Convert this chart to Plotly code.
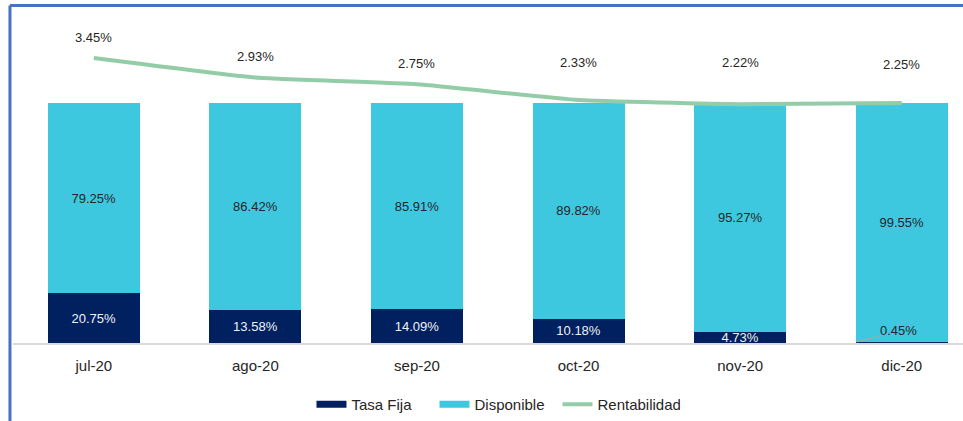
import plotly.graph_objects as go

months = ["jul-20", "ago-20", "sep-20", "oct-20", "nov-20", "dic-20"]
tasa_fija = [20.75, 13.58, 14.09, 10.18, 4.73, 0.45]
disponible = [79.25, 86.42, 85.91, 89.82, 95.27, 99.55]
rentabilidad = [3.45, 2.93, 2.75, 2.33, 2.22, 2.25]

# label offsets (px) for line labels, as placed in the original
label_shift = [20, 21, 21, 38, 42, 39]

C_TASA = "#002060"
C_DISP = "#3EC8E0"
C_LINE = "#93CDA8"
FONT = "Liberation Sans"

fig = go.Figure()

fig.add_trace(go.Bar(
    x=months, y=tasa_fija, name="Tasa Fija", marker=dict(color=C_TASA, line=dict(width=0)),
    text=[f"{v:.2f}%" if v >= 1 else "" for v in tasa_fija],
    textposition="inside", insidetextanchor="middle",
    textfont=dict(color="#F2F2F2", size=13, family=FONT),
    showlegend=False, hoverinfo="skip",
))
fig.add_trace(go.Bar(
    x=months, y=disponible, name="Disponible", marker=dict(color=C_DISP, line=dict(width=0)),
    text=[f"{v:.2f}%" for v in disponible],
    textposition="inside", insidetextanchor="middle",
    textfont=dict(color="#262626", size=13, family=FONT),
    showlegend=False, hoverinfo="skip",
))
fig.add_trace(go.Scatter(
    x=months, y=rentabilidad, name="Rentabilidad", yaxis="y2", mode="lines",
    line=dict(color=C_LINE, width=4, shape="spline", smoothing=0.4),
    showlegend=False, hoverinfo="skip",
))

# legend-only entries
for nm, col, w in [("Tasa Fija", C_TASA, 7), ("Disponible", C_DISP, 7), ("Rentabilidad", C_LINE, 4)]:
    fig.add_trace(go.Scatter(x=[None], y=[None], mode="lines", name=nm,
                             line=dict(color=col, width=w), showlegend=True))

annotations = []
for m, v, s in zip(months, rentabilidad, label_shift):
    annotations.append(dict(x=m, y=v, xref="x", yref="y2", text=f"{v:.2f}%",
                            showarrow=False, yshift=s, yanchor="middle",
                            font=dict(size=13, color="#262626", family=FONT)))
# small value with leader line
for m, v in zip(months, tasa_fija):
    if v < 1:
        annotations.append(dict(x=m, y=v, xref="x", yref="y", text=f"{v:.2f}%",
                                showarrow=True, arrowhead=0, arrowwidth=1.2,
                                arrowcolor="#A6A6A6", ax=42, ay=-11, xshift=-45,
                                font=dict(size=13, color="#262626", family=FONT)))

fig.update_layout(
    width=963, height=421,
    margin=dict(l=13, r=0, t=20, b=78),
    barmode="stack", bargap=0.43,
    plot_bgcolor="white", paper_bgcolor="white",
    font=dict(family=FONT, size=13, color="#262626"),
    uniformtext=dict(minsize=13, mode="show"),
    xaxis=dict(range=[-0.5, 5.379], showline=True, linecolor="#D9D9D9", linewidth=2,
               showgrid=False, ticks="", ticklabelstandoff=8,
               tickfont=dict(size=15, color="#262626", family=FONT)),
    yaxis=dict(range=[0, 134.58], visible=False, showgrid=False),
    yaxis2=dict(range=[-4.13, 4.46], overlaying="y", visible=False, showgrid=False),
    legend=dict(orientation="h", x=0.5084, xanchor="center", y=-0.192, yanchor="middle",
                font=dict(size=15, color="#262626", family=FONT), entrywidth=78,
                traceorder="normal"),
    annotations=annotations,
    shapes=[
        dict(type="line", xref="paper", yref="paper", x0=-0.0032, x1=-0.0032, y0=1.045, y1=-0.3,
             line=dict(color="#4472C4", width=3)),
        dict(type="line", xref="paper", yref="paper", x0=-0.0032, x1=1.0, y0=1.045, y1=1.045,
             line=dict(color="#4472C4", width=3)),
    ],
)

fig.write_html("out.html", config={"displayModeBar": False},
               post_script="document.body.style.margin='0px';")
